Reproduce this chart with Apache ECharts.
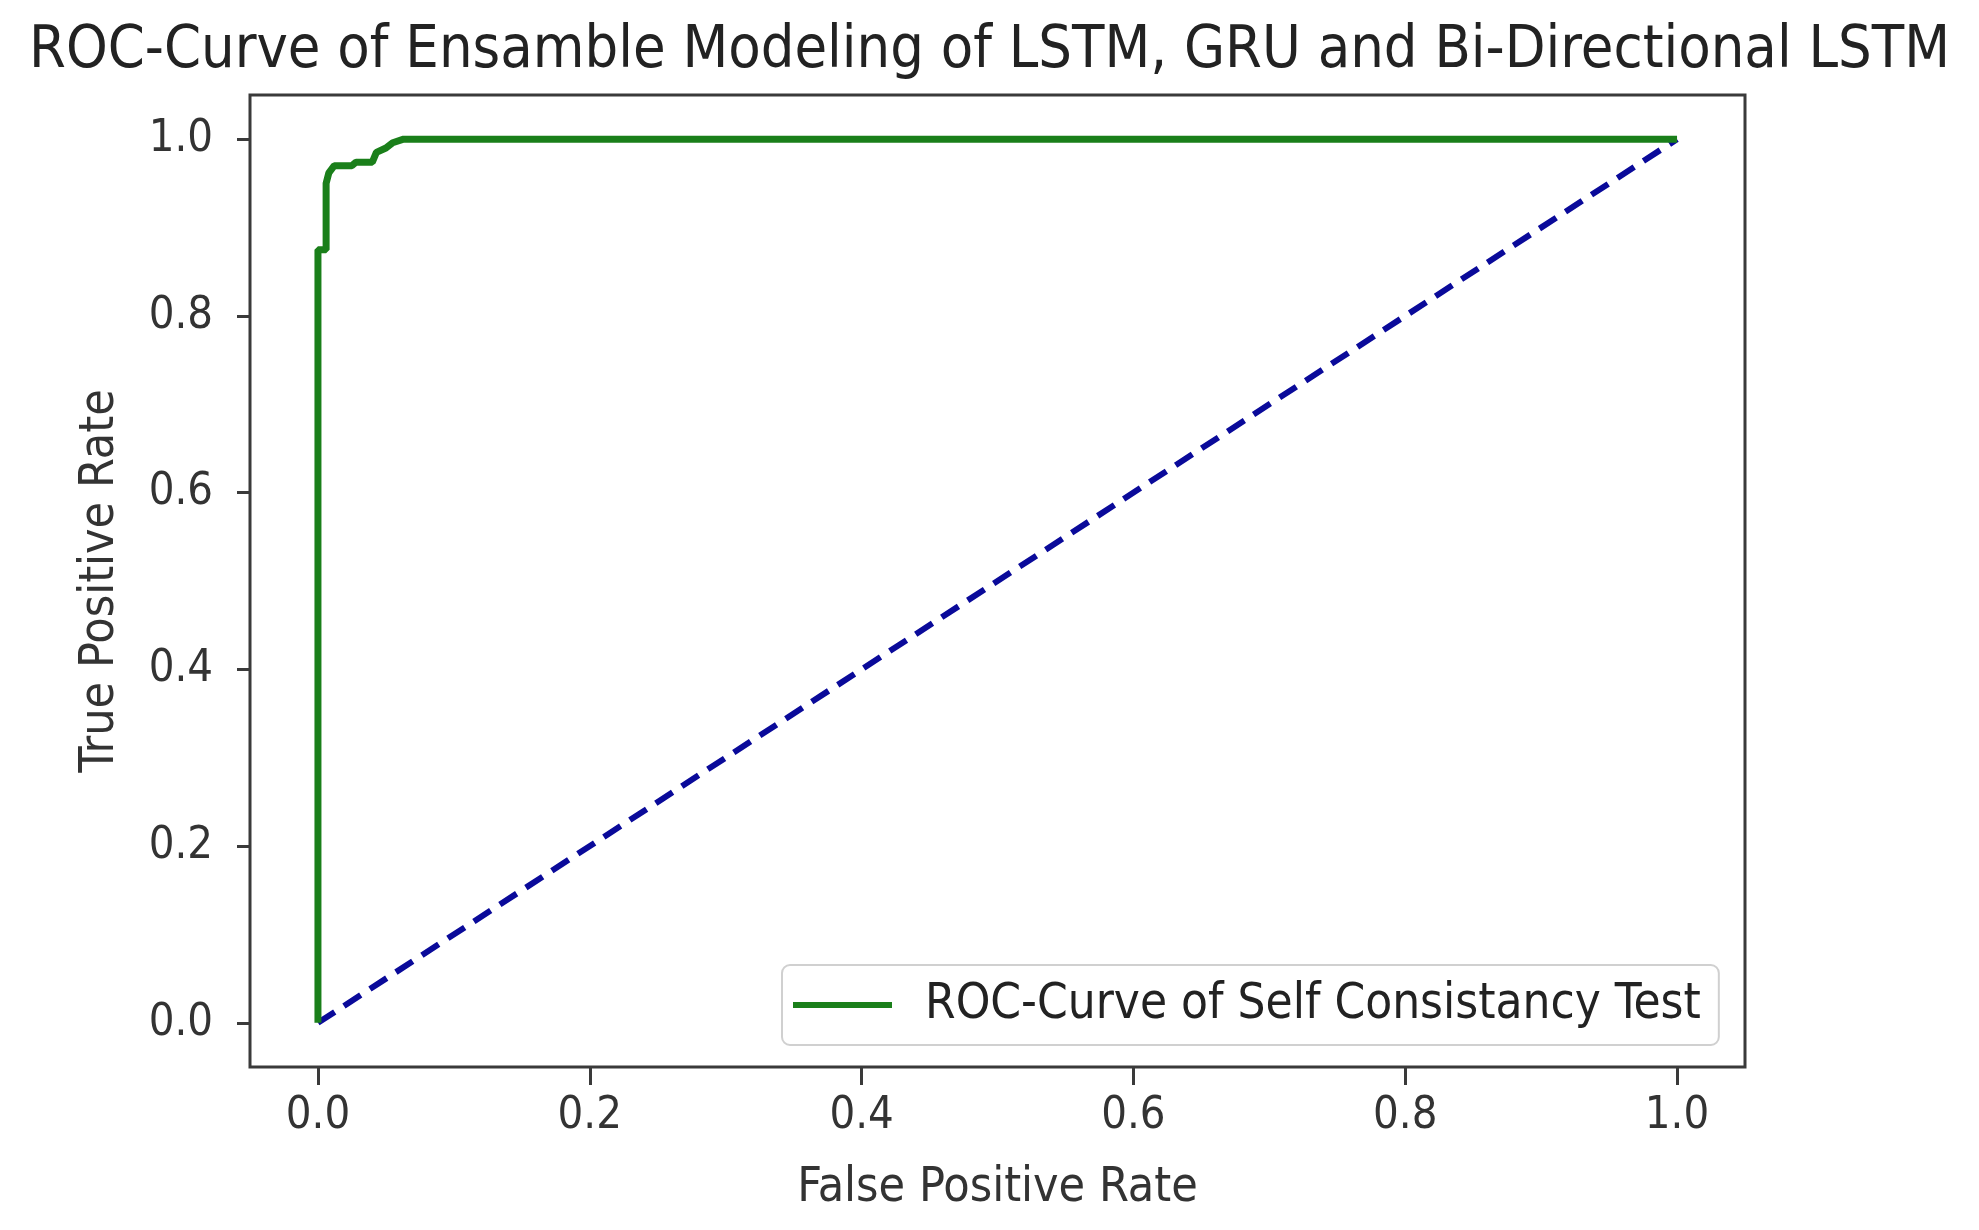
<!DOCTYPE html>
<html>
<head>
<meta charset="utf-8">
<script src="https://cdn.jsdelivr.net/npm/echarts@6/dist/echarts.min.js"></script>
<style>html,body{margin:0;padding:0;background:#fff}#c{width:1979px;height:1230px}</style>
</head>
<body>
<div id="c"></div>
<script>
const titleText = 'ROC-Curve of Ensamble Modeling of LSTM, GRU and Bi-Directional LSTM';
const seriesName = 'ROC-Curve of Self Consistancy Test';
const xTicks = [0, 0.2, 0.4, 0.6, 0.8, 1.0];
const yTicks = [0, 0.2, 0.4, 0.6, 0.8, 1.0];
const rocFpr = [0, 0, 0.006, 0.006, 0.008, 0.012, 0.025, 0.028, 0.040, 0.043, 0.050, 0.055, 0.063, 1.0];
const rocTpr = [0, 0.875, 0.875, 0.950, 0.962, 0.970, 0.970, 0.974, 0.974, 0.985, 0.990, 0.996, 1.0, 1.0];
const chanceX = [0, 1];
const chanceY = [0, 1];

const FONT = '"DejaVu Sans Condensed", "DejaVu Sans", sans-serif';
const chart = echarts.init(document.getElementById('c'));
chart.setOption({
  animation: false,
  backgroundColor: '#fff',
  title: {
    text: titleText, left: 'center', top: 17,
    textStyle: { fontFamily: FONT, fontSize: 59, fontWeight: 'normal', color: '#222' }
  },
  legend: {
    data: [seriesName],
    left: 782, top: 965,
    padding: [14, 18, 14, 11],
    itemWidth: 99, itemHeight: 6,
    borderColor: '#d0d0d0', borderWidth: 2, borderRadius: 8,
    backgroundColor: '#fff',
    icon: 'rect',
    textStyle: { fontFamily: FONT, fontSize: 49, color: '#222', padding: [0, 0, 0, 28], lineHeight: 52 }
  },
  grid: {
    left: 250, top: 95, width: 1495, height: 972,
    show: true, borderColor: '#3a3a3a', borderWidth: 3, backgroundColor: '#fff'
  },
  xAxis: {
    type: 'value', min: -0.05, max: 1.05,
    splitLine: { show: false },
    axisLine: { show: false, onZero: false },
    axisTick: { show: true, inside: false, length: 18, lineStyle: { color: '#3a3a3a', width: 3 }, customValues: xTicks },
    axisLabel: { customValues: xTicks, margin: 27, formatter: v => v.toFixed(1),
      fontFamily: FONT, fontSize: 45, color: '#333' },
    name: 'False Positive Rate', nameLocation: 'middle', nameGap: 98,
    nameTextStyle: { fontFamily: FONT, fontSize: 48, color: '#333' }
  },
  yAxis: {
    type: 'value', min: -0.05, max: 1.05,
    splitLine: { show: false },
    axisLine: { show: false, onZero: false },
    axisTick: { show: true, inside: false, length: 13, lineStyle: { color: '#3a3a3a', width: 3 }, customValues: yTicks },
    axisLabel: { customValues: yTicks, margin: 37, formatter: v => v.toFixed(1),
      fontFamily: FONT, fontSize: 45, color: '#333' },
    name: 'True Positive Rate', nameLocation: 'middle', nameGap: 125, nameRotate: 90,
    nameTextStyle: { fontFamily: FONT, fontSize: 48, color: '#333' }
  },
  series: [
    {
      name: seriesName, type: 'line', symbol: 'none',
      data: rocFpr.map((x, i) => [x, rocTpr[i]]),
      lineStyle: { color: '#1a7f1a', width: 7 }, itemStyle: { color: '#1a7f1a' }, z: 3
    },
    {
      name: 'chance', type: 'line', symbol: 'none',
      data: chanceX.map((x, i) => [x, chanceY[i]]),
      lineStyle: { color: '#0a0a9a', width: 6, type: [20, 11] }, z: 2
    }
  ]
});
</script>
</body>
</html>
